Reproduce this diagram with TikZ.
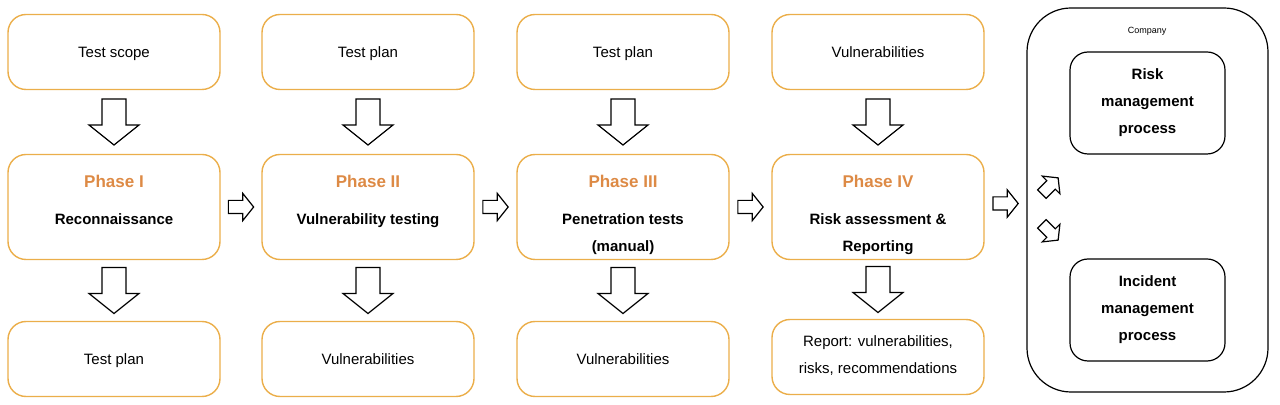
\documentclass[tikz,border=0pt]{standalone}
\usepackage{fontspec}
\setmainfont{Liberation Sans}
\usetikzlibrary{calc}
\definecolor{boxline}{HTML}{EBAE4A}
\definecolor{phasecol}{HTML}{DD8A45}
\tikzset{
  box/.style={draw=boxline,rounded corners=9pt,minimum width=106pt,minimum height=37.5pt,
    align=center,font=\fontsize{7.5}{13}\selectfont,line width=0.7pt,text depth=0pt},
  phase/.style={box,minimum height=52.5pt},
  phasetitle/.style={text=phasecol,font=\fontsize{8.5}{10}\selectfont\bfseries},
  phasetext/.style={align=center,font=\fontsize{7.5}{13.5}\selectfont\bfseries,anchor=north},
  inner/.style={draw,rounded corners=9pt,minimum width=77.5pt,minimum height=51pt,
    align=center,font=\fontsize{7.5}{13.5}\selectfont\bfseries,line width=0.6pt},
  pics/blockarrow/.style={code={
    \draw[fill=white,line width=0.6pt] (-23,-12)--(3,-12)--(3,-25)--(23,0)--(3,25)--(3,12)--(-23,12)--cycle;}}
}
\begin{document}
\begin{tikzpicture}[x=0.5pt,y=-0.5pt]
\useasboundingbox (0,0) rectangle (1280,405);
% top row
\node[box] (in1) at (114,52) {Test scope};
\node[box] (in2) at (368,52) {Test plan};
\node[box] (in3) at (623,52) {Test plan};
\node[box] (in4) at (878,52) {Vulnerabilities};
% phases
\node[phase] (ph1) at (114,207) {};
\node[phase] (ph2) at (368,207) {};
\node[phase] (ph3) at (623,207) {};
\node[phase] (ph4) at (878,207) {};
\node[phasetitle] (t1) at ($(ph1.center)+(0,-26)$) {Phase I};
\node[phasetitle] (t2) at ($(ph2.center)+(0,-26)$) {Phase II};
\node[phasetitle] (t3) at ($(ph3.center)+(0,-26)$) {Phase III};
\node[phasetitle] (t4) at ($(ph4.center)+(0,-26)$) {Phase IV};
\node[phasetext] (d1) at ($(ph1.center)+(0,0)$) {Reconnaissance};
\node[phasetext] (d2) at ($(ph2.center)+(0,0)$) {Vulnerability testing};
\node[phasetext] (d3) at ($(ph3.center)+(0,0)$) {Penetration tests\\(manual)};
\node[phasetext] (d4) at ($(ph4.center)+(0,0)$) {Risk assessment \&\\Reporting};
% bottom row
\node[box] (out1) at (114,359) {Test plan};
\node[box] (out2) at (368,359) {Vulnerabilities};
\node[box,font=\fontsize{7.5}{13.5}\selectfont] (out3) at (623,359) {Vulnerabilities};
\node[box,font=\fontsize{7.5}{13.5}\selectfont,text depth=2pt] (out4) at (878,357) {Report: vulnerabilities,\\risks, recommendations};
% company
\node[draw,rounded corners=22pt,minimum width=120.5pt,minimum height=192pt,line width=0.6pt] (comp) at (1147.5,200) {};
\node[font=\fontsize{4.5}{5}\selectfont] (complbl) at (1147,31) {Company};
\node[inner] (risk) at (1147.5,103) {Risk\\management\\process};
\node[inner] (inc) at (1147.5,310) {Incident\\management\\process};
% arrows
\foreach \i in {1,...,4}{
  \pic[rotate=-90] at ($(in\i.south)!0.5!(ph\i.north)$) {blockarrow};
  \pic[rotate=-90] at ($(ph\i.south)!0.5!(out\i.north)$) {blockarrow};
}
\foreach \i/\j in {1/2,2/3,3/4}
  \pic[scale=0.55] at ($(ph\i.east)!0.5!(ph\j.west)$) {blockarrow};
\pic[scale=0.55] at ($(ph4.east)!0.5!(comp.west)$) {blockarrow};
\pic[scale=0.5,rotate=45] at (1050,186) {blockarrow};
\pic[scale=0.5,rotate=-45] at (1050,232) {blockarrow};
\end{tikzpicture}
\end{document}
